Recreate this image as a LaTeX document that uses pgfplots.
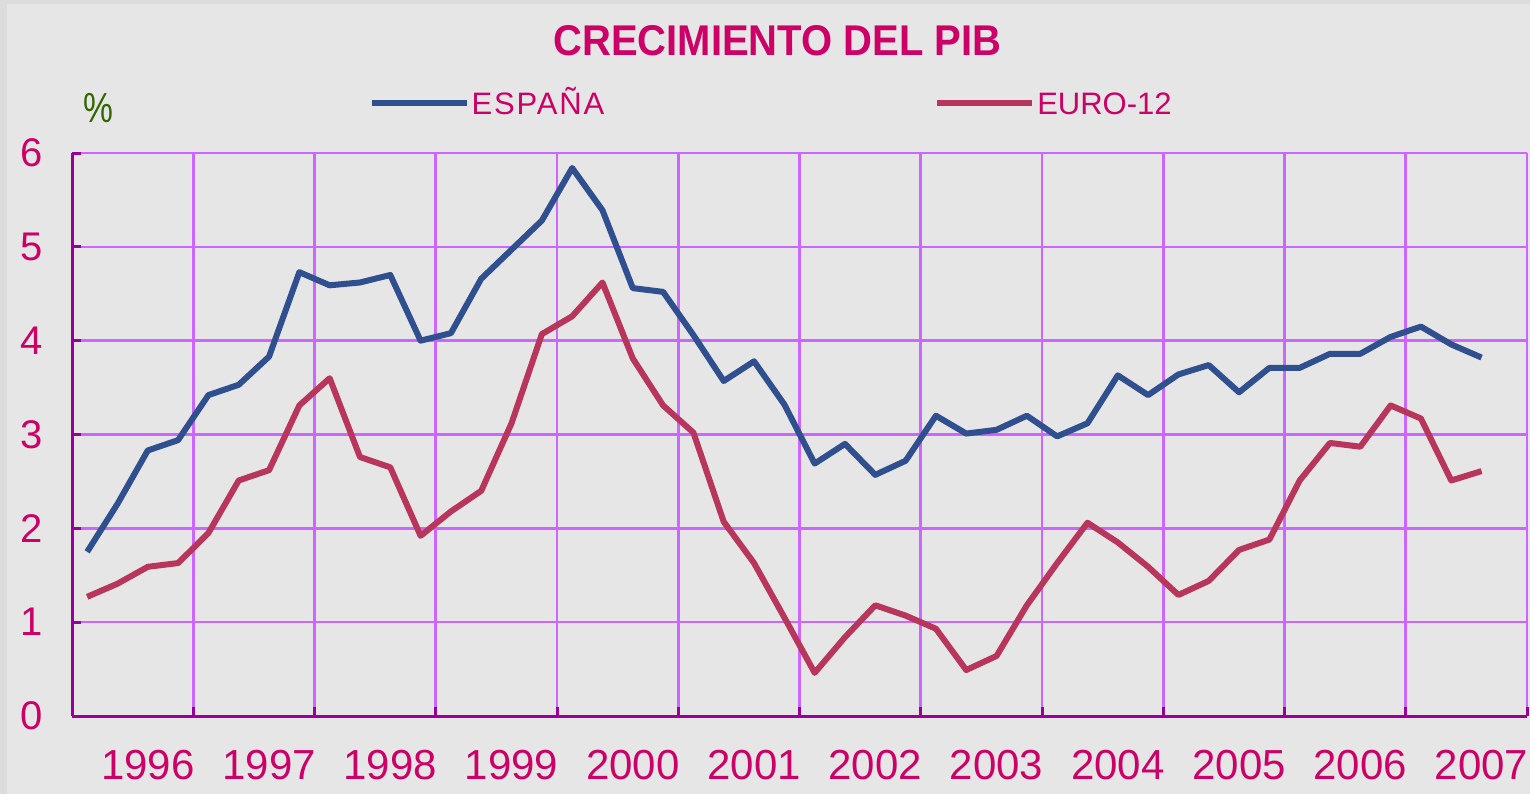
\documentclass[border=0pt]{standalone}
\usepackage{pgfplots}
\pgfplotsset{compat=1.18}
\usepackage{pgfplotstable}
\usepackage{graphicx}
\usepackage{fontspec}
\setmainfont{Liberation Sans}
\definecolor{bg}{HTML}{E6E6E6}
\definecolor{bgdark}{HTML}{DCDCDC}
\definecolor{gridpurple}{HTML}{CC66FF}
\definecolor{axpurple}{HTML}{990099}
\definecolor{txtmag}{HTML}{CC0066}
\definecolor{pctgreen}{HTML}{336600}
\definecolor{espblue}{HTML}{2F4F8F}
\definecolor{eurored}{HTML}{B8365C}

\pgfplotstableread{
q esp eur
0 1.75 1.27
1 2.26 1.41
2 2.83 1.59
3 2.94 1.63
4 3.42 1.95
5 3.53 2.51
6 3.83 2.62
7 4.73 3.31
8 4.59 3.60
9 4.62 2.76
10 4.70 2.65
11 4.00 1.92
12 4.08 2.18
13 4.66 2.40
14 4.97 3.12
15 5.28 4.07
16 5.84 4.26
17 5.39 4.62
18 4.56 3.81
19 4.52 3.31
20 4.06 3.02
21 3.57 2.07
22 3.78 1.63
23 3.32 1.05
24 2.69 0.46
25 2.90 0.84
26 2.57 1.18
27 2.72 1.07
28 3.20 0.93
29 3.01 0.49
30 3.05 0.64
31 3.20 1.18
32 2.98 1.63
33 3.12 2.06
34 3.63 1.85
35 3.42 1.59
36 3.64 1.29
37 3.74 1.44
38 3.45 1.77
39 3.71 1.88
40 3.71 2.51
41 3.86 2.91
42 3.86 2.87
43 4.04 3.31
44 4.15 3.17
45 3.96 2.51
46 3.82 2.61
}\datatable

\begin{document}
\begin{tikzpicture}
\fill[bg] (0pt,0pt) rectangle (765pt,397pt);
\fill[bgdark] (0pt,0pt) rectangle (3.5pt,397pt);
\fill[bgdark] (0pt,395pt) rectangle (765pt,397pt);
\useasboundingbox (0pt,0pt) rectangle (765pt,397pt);
\begin{axis}[
  at={(36pt,39pt)}, anchor=south west,
  scale only axis, width=727.5pt, height=281.5pt,
  xmin=-0.5, xmax=47.5, ymin=0, ymax=6,
  axis x line*=bottom, axis y line*=left,
  axis line style={-, draw=axpurple, line width=1.5pt},
  ytick={0,1,...,6},
  xtick={2,6,...,46},
  xticklabels={1996,1997,1998,1999,2000,2001,2002,2003,2004,2005,2006,2007},
  minor xtick={-0.5,3.5,...,47.5},
  ymajorgrids, xminorgrids,
  grid style={draw=gridpurple, line width=1.3pt},
  tick align=inside,
  major tick length=4.5pt, minor tick length=4.5pt,
  tick style={draw=axpurple, line width=1.5pt},
  every major x tick/.append style={draw=none},
  /pgf/number format/assume math mode=true,
  yticklabel style={font=\fontsize{20}{24}\selectfont, text=txtmag, xshift=-11pt},
  xticklabel style={font=\fontsize{21}{25}\selectfont, text=txtmag, yshift=-13.5pt},
  legend style={draw=none, fill=none, at={(0.2035,1.0888)}, anchor=west,
    font=\fontsize{15.5}{18}\selectfont, text=txtmag, inner sep=0pt,
    nodes={inner sep=1pt, text height=11pt, text depth=0pt},
    /tikz/every even column/.append style={column sep=164pt}},
  legend columns=2,
  legend image code/.code={\draw[#1, line width=3pt] (0pt,0pt) -- (47.5pt,0pt);},
]
\addplot[espblue, line width=3pt, line join=round] table[x=q, y=esp] {\datatable};
\addlegendentry{\addfontfeature{LetterSpace=6}ESPAÑA}
\addplot[eurored, line width=3pt, line join=round] table[x=q, y=eur] {\datatable};
\addlegendentry{EURO-12}
\end{axis}
\node[font=\bfseries\fontsize{21.5}{26}\selectfont, text=txtmag] at (388.75pt,376.5pt) {\scalebox{0.93}[1]{CRECIMIENTO DEL PIB}};
\node[font=\fontsize{21}{25}\selectfont, text=pctgreen] at (49pt,343pt) {\scalebox{0.8}[1]{\%}};
\end{tikzpicture}
\end{document}
